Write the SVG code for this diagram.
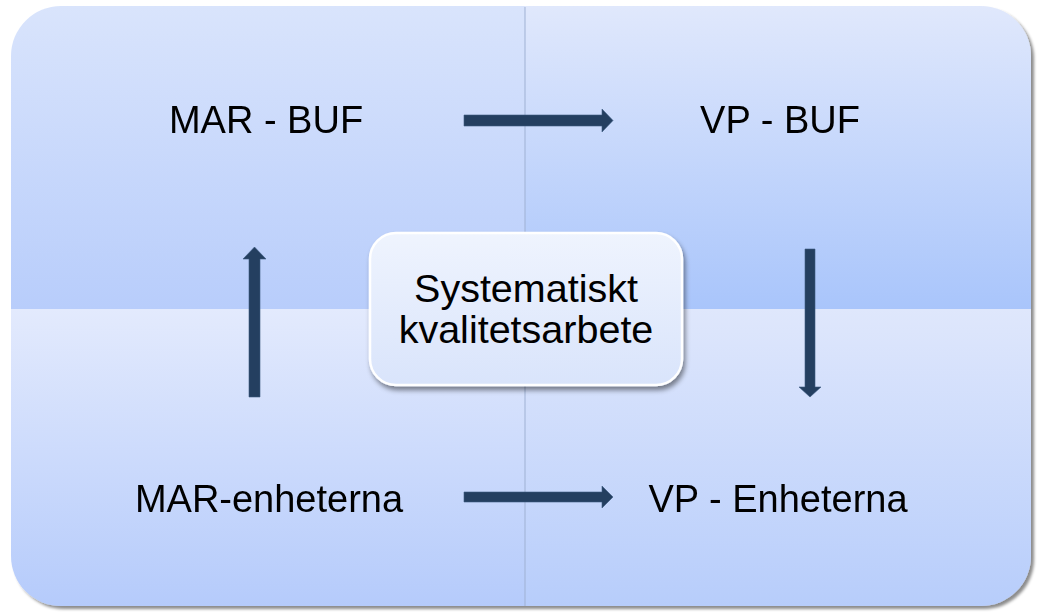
<svg xmlns="http://www.w3.org/2000/svg" width="1037" height="615" viewBox="0 0 1037 615">
  <defs>
    <linearGradient id="gTL" x1="0" y1="0" x2="0" y2="1">
      <stop offset="0" stop-color="#d9e4fc"/>
      <stop offset="1" stop-color="#b8cdfb"/>
    </linearGradient>
    <linearGradient id="gTR" x1="0" y1="0" x2="0" y2="1">
      <stop offset="0" stop-color="#e0e8fc"/>
      <stop offset="1" stop-color="#a9c5fb"/>
    </linearGradient>
    <linearGradient id="gBL" x1="0" y1="0" x2="0" y2="1">
      <stop offset="0" stop-color="#e3eafd"/>
      <stop offset="1" stop-color="#b5cbfb"/>
    </linearGradient>
    <linearGradient id="gBR" x1="0" y1="0" x2="0" y2="1">
      <stop offset="0" stop-color="#dfe7fc"/>
      <stop offset="1" stop-color="#b7cdfb"/>
    </linearGradient>
    <linearGradient id="gC" x1="0" y1="0" x2="0" y2="1">
      <stop offset="0" stop-color="#eff4fe"/>
      <stop offset="1" stop-color="#d9e4fb"/>
    </linearGradient>
    <filter id="sh" x="-5%" y="-5%" width="110%" height="110%">
      <feDropShadow dx="3" dy="3" stdDeviation="1.8" flood-color="#000" flood-opacity="0.45"/>
    </filter>
    <filter id="shC" x="-10%" y="-10%" width="120%" height="125%">
      <feDropShadow dx="2" dy="4" stdDeviation="2.5" flood-color="#000" flood-opacity="0.45"/>
    </filter>
  </defs>
  <style>
    .lbl { font-family: "Liberation Sans", Arial, sans-serif; font-size: 38px; fill: #000; text-anchor: middle; }
    .big { font-size: 39.5px; }
    .arrow { fill: #243f60; stroke: #3d5a82; stroke-width: 0.6; }
    .div { stroke: #9fb1d3; stroke-width: 1; }
  </style>

  <g filter="url(#sh)">
    <g id="q-mar-buf">
      <path d="M11,309 V56 A50,50 0 0 1 61,6 H525 V309 Z" fill="url(#gTL)"/>
      <text class="lbl" x="266" y="133">MAR - BUF</text>
    </g>
    <g id="q-vp-buf">
      <path d="M525,6 H981 A50,50 0 0 1 1031,56 V309 H525 Z" fill="url(#gTR)"/>
      <text class="lbl" x="780" y="133">VP - BUF</text>
    </g>
    <g id="q-mar-enheterna">
      <path d="M11,309 H525 V606 H61 A50,50 0 0 1 11,556 Z" fill="url(#gBL)"/>
      <text class="lbl" x="269" y="512">MAR-enheterna</text>
    </g>
    <g id="q-vp-enheterna">
      <path d="M525,309 H1031 V556 A50,50 0 0 1 981,606 H525 Z" fill="url(#gBR)"/>
      <text class="lbl" x="778" y="512">VP - Enheterna</text>
    </g>
  </g>
  <line class="div" x1="525" y1="7" x2="525" y2="606"/>

  <g id="connectors">
    <polygon class="arrow" points="464,115 602,115 602,109 613,120.5 602,132 602,126 464,126"/>
    <polygon class="arrow" points="810,397 821,387 815,387 815,249 805,249 805,387 799,387"/>
    <polygon class="arrow" points="464,492 602,492 602,486 613,497 602,508 602,502 464,502"/>
    <polygon class="arrow" points="254.5,247 266,259 260,259 260,397 249,397 249,259 243,259"/>
  </g>

  <g id="center">
    <rect x="370" y="233" width="312" height="152" rx="26" ry="26" fill="url(#gC)" stroke="#ffffff" stroke-width="2.5" filter="url(#shC)"/>
    <text class="lbl big" x="526" y="302">Systematiskt</text>
    <text class="lbl big" x="526" y="343">kvalitetsarbete</text>
  </g>
</svg>
